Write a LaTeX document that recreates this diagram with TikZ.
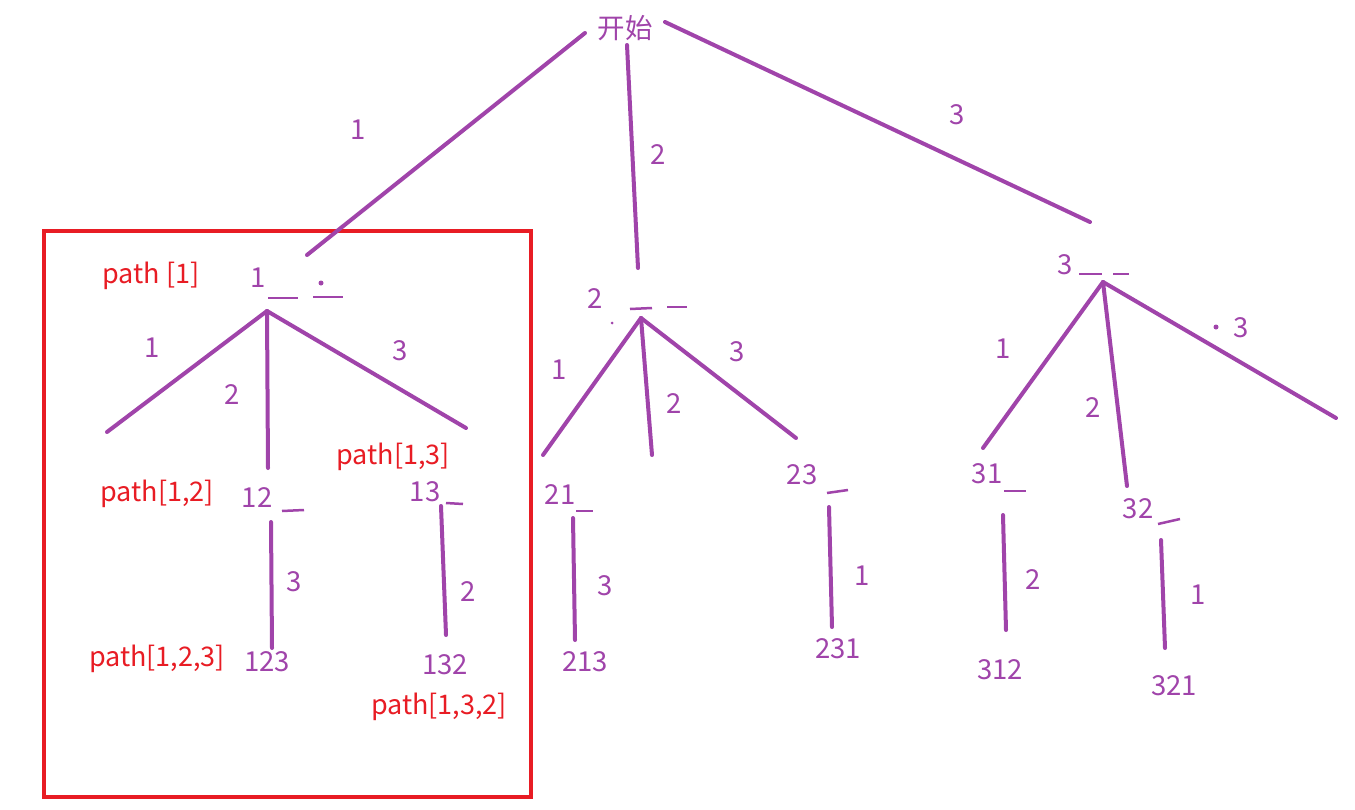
\documentclass[tikz,border=0pt]{standalone}
\usepackage{fontspec}
\setmainfont{Noto Sans CJK SC}
\begin{document}
\begin{tikzpicture}[x=1pt,y=-1pt,
  every node/.style={inner sep=0pt,outer sep=0pt},
  edge/.style={draw=pur,line width=4pt,line cap=round},
  tick/.style={draw=pur,line width=2.5pt},
  lab/.style={text=pur,font=\fontsize{27.5}{31}\selectfont},
  ptxt/.style={text=redc,font=\fontsize{27}{31}\selectfont}]
\definecolor{pur}{RGB}{160,68,170}
\definecolor{redc}{RGB}{232,28,36}
\useasboundingbox[fill=white] (0,0) rectangle (1355,809);
% red frame
\draw[redc,line width=3.5pt] (44,231) rectangle (531,797);
% root
\node[lab] (root) at (625,28) {开始};
\coordinate (r1a) at (585,33); \coordinate (r1b) at (307,255);
\coordinate (r2a) at (627,45); \coordinate (r2b) at (638,268);
\coordinate (r3a) at (665,22); \coordinate (r3b) at (1090,222);
\draw[edge] (r1a) -- (r1b);
\draw[edge] (r2a) -- (r2b);
\draw[edge] (r3a) -- (r3b);
\node[lab] (lr1) at (358,130) {1};
\node[lab] (lr2) at (658,155) {2};
\node[lab] (lr3) at (957,115) {3};
% node 1
\node[lab] (n1) at (258,278) {1};
\coordinate (m1a) at (268,298); \coordinate (m1b) at (298,298);
\coordinate (m1c) at (313,297); \coordinate (m1d) at (343,297);
\draw[tick] (m1a) -- (m1b); \draw[tick] (m1c) -- (m1d);
\fill[pur] (321,283) circle (2.5pt);
\node[ptxt] (p1) at (151,276) {path [1]};
\coordinate (c1) at (267,311);
\coordinate (c11) at (107,432); \coordinate (c12) at (268,468); \coordinate (c13) at (466,428);
\draw[edge] (c1) -- (c11); \draw[edge] (c1) -- (c12); \draw[edge] (c1) -- (c13);
\node[lab] (l11) at (152,348) {1};
\node[lab] (l12) at (232,395) {2};
\node[lab] (l13) at (400,351) {3};
% 12
\node[ptxt] (p12) at (157,494) {path[1,2]};
\node[lab] (n12) at (257,498) {12};
\coordinate (m12a) at (282,511); \coordinate (m12b) at (304,510);
\draw[tick] (m12a) -- (m12b);
\coordinate (e12a) at (271,522); \coordinate (e12b) at (272,648);
\draw[edge] (e12a) -- (e12b);
\node[lab] (l123) at (294,582) {3};
\node[lab] (n123) at (267,662) {123};
\node[ptxt] (p123) at (157,659) {path[1,2,3]};
% 13
\node[ptxt] (p13) at (393,457) {path[1,3]};
\node[lab] (n13) at (425,492) {13};
\coordinate (m13a) at (446,503); \coordinate (m13b) at (463,504);
\draw[tick] (m13a) -- (m13b);
\coordinate (e13a) at (441,506); \coordinate (e13b) at (446,635);
\draw[edge] (e13a) -- (e13b);
\node[lab] (l132) at (468,592) {2};
\node[lab] (n132) at (445,665) {132};
\node[ptxt] (p132) at (439,707) {path[1,3,2]};
% node 2
\node[lab] (n2) at (595,299) {2};
\coordinate (m2a) at (630,309); \coordinate (m2b) at (652,308);
\coordinate (m2c) at (667,307); \coordinate (m2d) at (687,307);
\draw[tick] (m2a) -- (m2b); \draw[tick] (m2c) -- (m2d);
\fill[pur] (612,323) circle (1.5pt);
\coordinate (c2) at (641,318);
\coordinate (c21) at (543,455); \coordinate (c22) at (652,455); \coordinate (c23) at (796,438);
\draw[edge] (c2) -- (c21); \draw[edge] (c2) -- (c22); \draw[edge] (c2) -- (c23);
\node[lab] (l21) at (559,370) {1};
\node[lab] (l22) at (674,404) {2};
\node[lab] (l23) at (737,352) {3};
% 21
\node[lab] (n21) at (560,495) {21};
\coordinate (m21a) at (576,511); \coordinate (m21b) at (593,511);
\draw[tick] (m21a) -- (m21b);
\coordinate (e21a) at (573,518); \coordinate (e21b) at (575,640);
\draw[edge] (e21a) -- (e21b);
\node[lab] (l213) at (605,586) {3};
\node[lab] (n213) at (585,662) {213};
% 23
\node[lab] (n23) at (802,475) {23};
\coordinate (m23a) at (827,493); \coordinate (m23b) at (848,490);
\draw[tick] (m23a) -- (m23b);
\coordinate (e23a) at (829,507); \coordinate (e23b) at (832,627);
\draw[edge] (e23a) -- (e23b);
\node[lab] (l231) at (862,576) {1};
\node[lab] (n231) at (838,649) {231};
% node 3
\node[lab] (n3) at (1065,265) {3};
\coordinate (m3a) at (1079,274); \coordinate (m3b) at (1102,274);
\coordinate (m3c) at (1113,274); \coordinate (m3d) at (1129,274);
\draw[tick] (m3a) -- (m3b); \draw[tick] (m3c) -- (m3d);
\coordinate (c3) at (1103,282);
\coordinate (c31) at (983,448); \coordinate (c32) at (1127,486); \coordinate (c33) at (1336,418);
\draw[edge] (c3) -- (c31); \draw[edge] (c3) -- (c32); \draw[edge] (c3) -- (c33);
\node[lab] (l31) at (1003,349) {1};
\node[lab] (l32) at (1093,408) {2};
\node[lab] (l33) at (1241,328) {3};
\fill[pur] (1216,327) circle (2.5pt);
% 31
\node[lab] (n31) at (987,474) {31};
\coordinate (m31a) at (1004,491); \coordinate (m31b) at (1026,491);
\draw[tick] (m31a) -- (m31b);
\coordinate (e31a) at (1003,515); \coordinate (e31b) at (1006,630);
\draw[edge] (e31a) -- (e31b);
\node[lab] (l312) at (1033,580) {2};
\node[lab] (n312) at (1000,670) {312};
% 32
\node[lab] (n32) at (1138,509) {32};
\coordinate (m32a) at (1158,524); \coordinate (m32b) at (1180,519);
\draw[tick] (m32a) -- (m32b);
\coordinate (e32a) at (1161,540); \coordinate (e32b) at (1165,648);
\draw[edge] (e32a) -- (e32b);
\node[lab] (l321) at (1198,595) {1};
\node[lab] (n321) at (1174,686) {321};
\end{tikzpicture}
\end{document}
